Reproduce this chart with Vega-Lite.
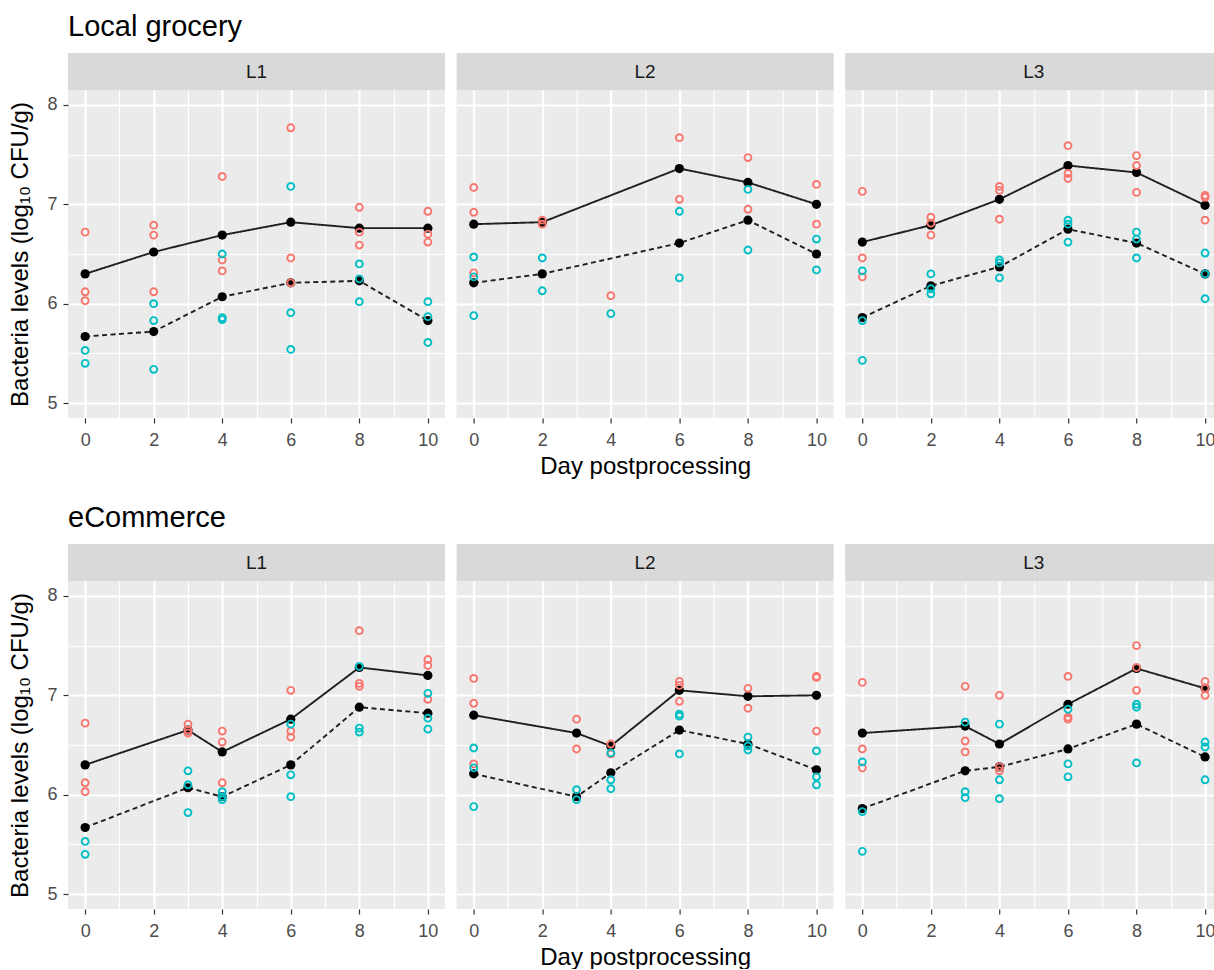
{
"$schema": "https://vega.github.io/schema/vega-lite/v6.json",
"padding": {"left": 8, "top": 13, "right": 0, "bottom": 0},
"background": "white",
"data": {"name": "obs"},
"datasets": {"obs": [
{"site":"Local grocery","lot":"L1","kind":"raw","series":"A","day":0,"value":6.72},
{"site":"Local grocery","lot":"L1","kind":"raw","series":"A","day":0,"value":6.12},
{"site":"Local grocery","lot":"L1","kind":"raw","series":"A","day":0,"value":6.03},
{"site":"Local grocery","lot":"L1","kind":"raw","series":"B","day":0,"value":5.53},
{"site":"Local grocery","lot":"L1","kind":"raw","series":"B","day":0,"value":5.40},
{"site":"Local grocery","lot":"L1","kind":"raw","series":"A","day":2,"value":6.79},
{"site":"Local grocery","lot":"L1","kind":"raw","series":"A","day":2,"value":6.69},
{"site":"Local grocery","lot":"L1","kind":"raw","series":"A","day":2,"value":6.12},
{"site":"Local grocery","lot":"L1","kind":"raw","series":"B","day":2,"value":6.00},
{"site":"Local grocery","lot":"L1","kind":"raw","series":"B","day":2,"value":5.83},
{"site":"Local grocery","lot":"L1","kind":"raw","series":"B","day":2,"value":5.34},
{"site":"Local grocery","lot":"L1","kind":"raw","series":"A","day":4,"value":7.28},
{"site":"Local grocery","lot":"L1","kind":"raw","series":"A","day":4,"value":6.44},
{"site":"Local grocery","lot":"L1","kind":"raw","series":"A","day":4,"value":6.33},
{"site":"Local grocery","lot":"L1","kind":"raw","series":"B","day":4,"value":6.50},
{"site":"Local grocery","lot":"L1","kind":"raw","series":"B","day":4,"value":5.86},
{"site":"Local grocery","lot":"L1","kind":"raw","series":"B","day":4,"value":5.84},
{"site":"Local grocery","lot":"L1","kind":"raw","series":"A","day":6,"value":7.77},
{"site":"Local grocery","lot":"L1","kind":"raw","series":"A","day":6,"value":6.46},
{"site":"Local grocery","lot":"L1","kind":"raw","series":"A","day":6,"value":6.21},
{"site":"Local grocery","lot":"L1","kind":"raw","series":"B","day":6,"value":7.18},
{"site":"Local grocery","lot":"L1","kind":"raw","series":"B","day":6,"value":5.91},
{"site":"Local grocery","lot":"L1","kind":"raw","series":"B","day":6,"value":5.54},
{"site":"Local grocery","lot":"L1","kind":"raw","series":"A","day":8,"value":6.97},
{"site":"Local grocery","lot":"L1","kind":"raw","series":"A","day":8,"value":6.72},
{"site":"Local grocery","lot":"L1","kind":"raw","series":"A","day":8,"value":6.59},
{"site":"Local grocery","lot":"L1","kind":"raw","series":"B","day":8,"value":6.40},
{"site":"Local grocery","lot":"L1","kind":"raw","series":"B","day":8,"value":6.25},
{"site":"Local grocery","lot":"L1","kind":"raw","series":"B","day":8,"value":6.02},
{"site":"Local grocery","lot":"L1","kind":"raw","series":"A","day":10,"value":6.93},
{"site":"Local grocery","lot":"L1","kind":"raw","series":"A","day":10,"value":6.70},
{"site":"Local grocery","lot":"L1","kind":"raw","series":"A","day":10,"value":6.62},
{"site":"Local grocery","lot":"L1","kind":"raw","series":"B","day":10,"value":6.02},
{"site":"Local grocery","lot":"L1","kind":"raw","series":"B","day":10,"value":5.87},
{"site":"Local grocery","lot":"L1","kind":"raw","series":"B","day":10,"value":5.61},
{"site":"Local grocery","lot":"L1","kind":"mean","series":"A","day":0,"value":6.30},
{"site":"Local grocery","lot":"L1","kind":"mean","series":"A","day":2,"value":6.52},
{"site":"Local grocery","lot":"L1","kind":"mean","series":"A","day":4,"value":6.69},
{"site":"Local grocery","lot":"L1","kind":"mean","series":"A","day":6,"value":6.82},
{"site":"Local grocery","lot":"L1","kind":"mean","series":"A","day":8,"value":6.76},
{"site":"Local grocery","lot":"L1","kind":"mean","series":"A","day":10,"value":6.76},
{"site":"Local grocery","lot":"L1","kind":"mean","series":"B","day":0,"value":5.67},
{"site":"Local grocery","lot":"L1","kind":"mean","series":"B","day":2,"value":5.72},
{"site":"Local grocery","lot":"L1","kind":"mean","series":"B","day":4,"value":6.07},
{"site":"Local grocery","lot":"L1","kind":"mean","series":"B","day":6,"value":6.21},
{"site":"Local grocery","lot":"L1","kind":"mean","series":"B","day":8,"value":6.23},
{"site":"Local grocery","lot":"L1","kind":"mean","series":"B","day":10,"value":5.83},

{"site":"Local grocery","lot":"L2","kind":"raw","series":"A","day":0,"value":7.17},
{"site":"Local grocery","lot":"L2","kind":"raw","series":"A","day":0,"value":6.92},
{"site":"Local grocery","lot":"L2","kind":"raw","series":"A","day":0,"value":6.31},
{"site":"Local grocery","lot":"L2","kind":"raw","series":"B","day":0,"value":6.47},
{"site":"Local grocery","lot":"L2","kind":"raw","series":"B","day":0,"value":6.27},
{"site":"Local grocery","lot":"L2","kind":"raw","series":"B","day":0,"value":5.88},
{"site":"Local grocery","lot":"L2","kind":"raw","series":"A","day":2,"value":6.84},
{"site":"Local grocery","lot":"L2","kind":"raw","series":"A","day":2,"value":6.80},
{"site":"Local grocery","lot":"L2","kind":"raw","series":"B","day":2,"value":6.46},
{"site":"Local grocery","lot":"L2","kind":"raw","series":"B","day":2,"value":6.13},
{"site":"Local grocery","lot":"L2","kind":"raw","series":"A","day":4,"value":6.08},
{"site":"Local grocery","lot":"L2","kind":"raw","series":"B","day":4,"value":5.90},
{"site":"Local grocery","lot":"L2","kind":"raw","series":"A","day":6,"value":7.67},
{"site":"Local grocery","lot":"L2","kind":"raw","series":"A","day":6,"value":7.05},
{"site":"Local grocery","lot":"L2","kind":"raw","series":"B","day":6,"value":6.93},
{"site":"Local grocery","lot":"L2","kind":"raw","series":"B","day":6,"value":6.26},
{"site":"Local grocery","lot":"L2","kind":"raw","series":"A","day":8,"value":7.47},
{"site":"Local grocery","lot":"L2","kind":"raw","series":"A","day":8,"value":6.95},
{"site":"Local grocery","lot":"L2","kind":"raw","series":"B","day":8,"value":7.15},
{"site":"Local grocery","lot":"L2","kind":"raw","series":"B","day":8,"value":6.54},
{"site":"Local grocery","lot":"L2","kind":"raw","series":"A","day":10,"value":7.20},
{"site":"Local grocery","lot":"L2","kind":"raw","series":"A","day":10,"value":6.80},
{"site":"Local grocery","lot":"L2","kind":"raw","series":"B","day":10,"value":6.65},
{"site":"Local grocery","lot":"L2","kind":"raw","series":"B","day":10,"value":6.34},
{"site":"Local grocery","lot":"L2","kind":"mean","series":"A","day":0,"value":6.80},
{"site":"Local grocery","lot":"L2","kind":"mean","series":"A","day":2,"value":6.82},
{"site":"Local grocery","lot":"L2","kind":"mean","series":"A","day":6,"value":7.36},
{"site":"Local grocery","lot":"L2","kind":"mean","series":"A","day":8,"value":7.22},
{"site":"Local grocery","lot":"L2","kind":"mean","series":"A","day":10,"value":7.00},
{"site":"Local grocery","lot":"L2","kind":"mean","series":"B","day":0,"value":6.21},
{"site":"Local grocery","lot":"L2","kind":"mean","series":"B","day":2,"value":6.30},
{"site":"Local grocery","lot":"L2","kind":"mean","series":"B","day":6,"value":6.61},
{"site":"Local grocery","lot":"L2","kind":"mean","series":"B","day":8,"value":6.84},
{"site":"Local grocery","lot":"L2","kind":"mean","series":"B","day":10,"value":6.50},

{"site":"Local grocery","lot":"L3","kind":"raw","series":"A","day":0,"value":7.13},
{"site":"Local grocery","lot":"L3","kind":"raw","series":"A","day":0,"value":6.46},
{"site":"Local grocery","lot":"L3","kind":"raw","series":"A","day":0,"value":6.27},
{"site":"Local grocery","lot":"L3","kind":"raw","series":"B","day":0,"value":6.33},
{"site":"Local grocery","lot":"L3","kind":"raw","series":"B","day":0,"value":5.83},
{"site":"Local grocery","lot":"L3","kind":"raw","series":"B","day":0,"value":5.43},
{"site":"Local grocery","lot":"L3","kind":"raw","series":"A","day":2,"value":6.87},
{"site":"Local grocery","lot":"L3","kind":"raw","series":"A","day":2,"value":6.81},
{"site":"Local grocery","lot":"L3","kind":"raw","series":"A","day":2,"value":6.69},
{"site":"Local grocery","lot":"L3","kind":"raw","series":"B","day":2,"value":6.30},
{"site":"Local grocery","lot":"L3","kind":"raw","series":"B","day":2,"value":6.15},
{"site":"Local grocery","lot":"L3","kind":"raw","series":"B","day":2,"value":6.10},
{"site":"Local grocery","lot":"L3","kind":"raw","series":"A","day":4,"value":7.18},
{"site":"Local grocery","lot":"L3","kind":"raw","series":"A","day":4,"value":7.14},
{"site":"Local grocery","lot":"L3","kind":"raw","series":"A","day":4,"value":6.85},
{"site":"Local grocery","lot":"L3","kind":"raw","series":"B","day":4,"value":6.44},
{"site":"Local grocery","lot":"L3","kind":"raw","series":"B","day":4,"value":6.41},
{"site":"Local grocery","lot":"L3","kind":"raw","series":"B","day":4,"value":6.26},
{"site":"Local grocery","lot":"L3","kind":"raw","series":"A","day":6,"value":7.59},
{"site":"Local grocery","lot":"L3","kind":"raw","series":"A","day":6,"value":7.31},
{"site":"Local grocery","lot":"L3","kind":"raw","series":"A","day":6,"value":7.26},
{"site":"Local grocery","lot":"L3","kind":"raw","series":"B","day":6,"value":6.84},
{"site":"Local grocery","lot":"L3","kind":"raw","series":"B","day":6,"value":6.80},
{"site":"Local grocery","lot":"L3","kind":"raw","series":"B","day":6,"value":6.62},
{"site":"Local grocery","lot":"L3","kind":"raw","series":"A","day":8,"value":7.49},
{"site":"Local grocery","lot":"L3","kind":"raw","series":"A","day":8,"value":7.39},
{"site":"Local grocery","lot":"L3","kind":"raw","series":"A","day":8,"value":7.12},
{"site":"Local grocery","lot":"L3","kind":"raw","series":"B","day":8,"value":6.72},
{"site":"Local grocery","lot":"L3","kind":"raw","series":"B","day":8,"value":6.65},
{"site":"Local grocery","lot":"L3","kind":"raw","series":"B","day":8,"value":6.46},
{"site":"Local grocery","lot":"L3","kind":"raw","series":"A","day":10,"value":7.09},
{"site":"Local grocery","lot":"L3","kind":"raw","series":"A","day":10,"value":7.07},
{"site":"Local grocery","lot":"L3","kind":"raw","series":"A","day":10,"value":6.84},
{"site":"Local grocery","lot":"L3","kind":"raw","series":"B","day":10,"value":6.51},
{"site":"Local grocery","lot":"L3","kind":"raw","series":"B","day":10,"value":6.30},
{"site":"Local grocery","lot":"L3","kind":"raw","series":"B","day":10,"value":6.05},
{"site":"Local grocery","lot":"L3","kind":"mean","series":"A","day":0,"value":6.62},
{"site":"Local grocery","lot":"L3","kind":"mean","series":"A","day":2,"value":6.79},
{"site":"Local grocery","lot":"L3","kind":"mean","series":"A","day":4,"value":7.05},
{"site":"Local grocery","lot":"L3","kind":"mean","series":"A","day":6,"value":7.39},
{"site":"Local grocery","lot":"L3","kind":"mean","series":"A","day":8,"value":7.32},
{"site":"Local grocery","lot":"L3","kind":"mean","series":"A","day":10,"value":6.99},
{"site":"Local grocery","lot":"L3","kind":"mean","series":"B","day":0,"value":5.86},
{"site":"Local grocery","lot":"L3","kind":"mean","series":"B","day":2,"value":6.18},
{"site":"Local grocery","lot":"L3","kind":"mean","series":"B","day":4,"value":6.37},
{"site":"Local grocery","lot":"L3","kind":"mean","series":"B","day":6,"value":6.75},
{"site":"Local grocery","lot":"L3","kind":"mean","series":"B","day":8,"value":6.61},
{"site":"Local grocery","lot":"L3","kind":"mean","series":"B","day":10,"value":6.30},

{"site":"eCommerce","lot":"L1","kind":"raw","series":"A","day":0,"value":6.72},
{"site":"eCommerce","lot":"L1","kind":"raw","series":"A","day":0,"value":6.12},
{"site":"eCommerce","lot":"L1","kind":"raw","series":"A","day":0,"value":6.03},
{"site":"eCommerce","lot":"L1","kind":"raw","series":"B","day":0,"value":5.53},
{"site":"eCommerce","lot":"L1","kind":"raw","series":"B","day":0,"value":5.40},
{"site":"eCommerce","lot":"L1","kind":"raw","series":"A","day":3,"value":6.71},
{"site":"eCommerce","lot":"L1","kind":"raw","series":"A","day":3,"value":6.65},
{"site":"eCommerce","lot":"L1","kind":"raw","series":"A","day":3,"value":6.62},
{"site":"eCommerce","lot":"L1","kind":"raw","series":"B","day":3,"value":6.24},
{"site":"eCommerce","lot":"L1","kind":"raw","series":"B","day":3,"value":6.10},
{"site":"eCommerce","lot":"L1","kind":"raw","series":"B","day":3,"value":5.82},
{"site":"eCommerce","lot":"L1","kind":"raw","series":"A","day":4,"value":6.64},
{"site":"eCommerce","lot":"L1","kind":"raw","series":"A","day":4,"value":6.53},
{"site":"eCommerce","lot":"L1","kind":"raw","series":"A","day":4,"value":6.12},
{"site":"eCommerce","lot":"L1","kind":"raw","series":"B","day":4,"value":6.03},
{"site":"eCommerce","lot":"L1","kind":"raw","series":"B","day":4,"value":5.98},
{"site":"eCommerce","lot":"L1","kind":"raw","series":"B","day":4,"value":5.95},
{"site":"eCommerce","lot":"L1","kind":"raw","series":"A","day":6,"value":7.05},
{"site":"eCommerce","lot":"L1","kind":"raw","series":"A","day":6,"value":6.64},
{"site":"eCommerce","lot":"L1","kind":"raw","series":"A","day":6,"value":6.58},
{"site":"eCommerce","lot":"L1","kind":"raw","series":"B","day":6,"value":6.71},
{"site":"eCommerce","lot":"L1","kind":"raw","series":"B","day":6,"value":6.20},
{"site":"eCommerce","lot":"L1","kind":"raw","series":"B","day":6,"value":5.98},
{"site":"eCommerce","lot":"L1","kind":"raw","series":"A","day":8,"value":7.65},
{"site":"eCommerce","lot":"L1","kind":"raw","series":"A","day":8,"value":7.12},
{"site":"eCommerce","lot":"L1","kind":"raw","series":"A","day":8,"value":7.09},
{"site":"eCommerce","lot":"L1","kind":"raw","series":"B","day":8,"value":7.29},
{"site":"eCommerce","lot":"L1","kind":"raw","series":"B","day":8,"value":6.67},
{"site":"eCommerce","lot":"L1","kind":"raw","series":"B","day":8,"value":6.63},
{"site":"eCommerce","lot":"L1","kind":"raw","series":"A","day":10,"value":7.36},
{"site":"eCommerce","lot":"L1","kind":"raw","series":"A","day":10,"value":7.30},
{"site":"eCommerce","lot":"L1","kind":"raw","series":"A","day":10,"value":6.96},
{"site":"eCommerce","lot":"L1","kind":"raw","series":"B","day":10,"value":7.02},
{"site":"eCommerce","lot":"L1","kind":"raw","series":"B","day":10,"value":6.77},
{"site":"eCommerce","lot":"L1","kind":"raw","series":"B","day":10,"value":6.66},
{"site":"eCommerce","lot":"L1","kind":"mean","series":"A","day":0,"value":6.30},
{"site":"eCommerce","lot":"L1","kind":"mean","series":"A","day":3,"value":6.65},
{"site":"eCommerce","lot":"L1","kind":"mean","series":"A","day":4,"value":6.43},
{"site":"eCommerce","lot":"L1","kind":"mean","series":"A","day":6,"value":6.76},
{"site":"eCommerce","lot":"L1","kind":"mean","series":"A","day":8,"value":7.28},
{"site":"eCommerce","lot":"L1","kind":"mean","series":"A","day":10,"value":7.20},
{"site":"eCommerce","lot":"L1","kind":"mean","series":"B","day":0,"value":5.67},
{"site":"eCommerce","lot":"L1","kind":"mean","series":"B","day":3,"value":6.07},
{"site":"eCommerce","lot":"L1","kind":"mean","series":"B","day":4,"value":5.98},
{"site":"eCommerce","lot":"L1","kind":"mean","series":"B","day":6,"value":6.30},
{"site":"eCommerce","lot":"L1","kind":"mean","series":"B","day":8,"value":6.88},
{"site":"eCommerce","lot":"L1","kind":"mean","series":"B","day":10,"value":6.82},

{"site":"eCommerce","lot":"L2","kind":"raw","series":"A","day":0,"value":7.17},
{"site":"eCommerce","lot":"L2","kind":"raw","series":"A","day":0,"value":6.92},
{"site":"eCommerce","lot":"L2","kind":"raw","series":"A","day":0,"value":6.31},
{"site":"eCommerce","lot":"L2","kind":"raw","series":"B","day":0,"value":6.47},
{"site":"eCommerce","lot":"L2","kind":"raw","series":"B","day":0,"value":6.27},
{"site":"eCommerce","lot":"L2","kind":"raw","series":"B","day":0,"value":5.88},
{"site":"eCommerce","lot":"L2","kind":"raw","series":"A","day":3,"value":6.76},
{"site":"eCommerce","lot":"L2","kind":"raw","series":"A","day":3,"value":6.46},
{"site":"eCommerce","lot":"L2","kind":"raw","series":"B","day":3,"value":6.05},
{"site":"eCommerce","lot":"L2","kind":"raw","series":"B","day":3,"value":5.95},
{"site":"eCommerce","lot":"L2","kind":"raw","series":"A","day":4,"value":6.51},
{"site":"eCommerce","lot":"L2","kind":"raw","series":"A","day":4,"value":6.41},
{"site":"eCommerce","lot":"L2","kind":"raw","series":"B","day":4,"value":6.42},
{"site":"eCommerce","lot":"L2","kind":"raw","series":"B","day":4,"value":6.15},
{"site":"eCommerce","lot":"L2","kind":"raw","series":"B","day":4,"value":6.06},
{"site":"eCommerce","lot":"L2","kind":"raw","series":"A","day":6,"value":7.14},
{"site":"eCommerce","lot":"L2","kind":"raw","series":"A","day":6,"value":7.10},
{"site":"eCommerce","lot":"L2","kind":"raw","series":"A","day":6,"value":6.94},
{"site":"eCommerce","lot":"L2","kind":"raw","series":"B","day":6,"value":6.81},
{"site":"eCommerce","lot":"L2","kind":"raw","series":"B","day":6,"value":6.79},
{"site":"eCommerce","lot":"L2","kind":"raw","series":"B","day":6,"value":6.41},
{"site":"eCommerce","lot":"L2","kind":"raw","series":"A","day":8,"value":7.07},
{"site":"eCommerce","lot":"L2","kind":"raw","series":"A","day":8,"value":6.87},
{"site":"eCommerce","lot":"L2","kind":"raw","series":"B","day":8,"value":6.58},
{"site":"eCommerce","lot":"L2","kind":"raw","series":"B","day":8,"value":6.49},
{"site":"eCommerce","lot":"L2","kind":"raw","series":"B","day":8,"value":6.45},
{"site":"eCommerce","lot":"L2","kind":"raw","series":"A","day":10,"value":7.19},
{"site":"eCommerce","lot":"L2","kind":"raw","series":"A","day":10,"value":7.18},
{"site":"eCommerce","lot":"L2","kind":"raw","series":"A","day":10,"value":6.64},
{"site":"eCommerce","lot":"L2","kind":"raw","series":"B","day":10,"value":6.44},
{"site":"eCommerce","lot":"L2","kind":"raw","series":"B","day":10,"value":6.18},
{"site":"eCommerce","lot":"L2","kind":"raw","series":"B","day":10,"value":6.10},
{"site":"eCommerce","lot":"L2","kind":"mean","series":"A","day":0,"value":6.80},
{"site":"eCommerce","lot":"L2","kind":"mean","series":"A","day":3,"value":6.62},
{"site":"eCommerce","lot":"L2","kind":"mean","series":"A","day":4,"value":6.49},
{"site":"eCommerce","lot":"L2","kind":"mean","series":"A","day":6,"value":7.05},
{"site":"eCommerce","lot":"L2","kind":"mean","series":"A","day":8,"value":6.99},
{"site":"eCommerce","lot":"L2","kind":"mean","series":"A","day":10,"value":7.00},
{"site":"eCommerce","lot":"L2","kind":"mean","series":"B","day":0,"value":6.21},
{"site":"eCommerce","lot":"L2","kind":"mean","series":"B","day":3,"value":5.98},
{"site":"eCommerce","lot":"L2","kind":"mean","series":"B","day":4,"value":6.22},
{"site":"eCommerce","lot":"L2","kind":"mean","series":"B","day":6,"value":6.65},
{"site":"eCommerce","lot":"L2","kind":"mean","series":"B","day":8,"value":6.51},
{"site":"eCommerce","lot":"L2","kind":"mean","series":"B","day":10,"value":6.25},

{"site":"eCommerce","lot":"L3","kind":"raw","series":"A","day":0,"value":7.13},
{"site":"eCommerce","lot":"L3","kind":"raw","series":"A","day":0,"value":6.46},
{"site":"eCommerce","lot":"L3","kind":"raw","series":"A","day":0,"value":6.27},
{"site":"eCommerce","lot":"L3","kind":"raw","series":"B","day":0,"value":6.33},
{"site":"eCommerce","lot":"L3","kind":"raw","series":"B","day":0,"value":5.83},
{"site":"eCommerce","lot":"L3","kind":"raw","series":"B","day":0,"value":5.43},
{"site":"eCommerce","lot":"L3","kind":"raw","series":"A","day":3,"value":7.09},
{"site":"eCommerce","lot":"L3","kind":"raw","series":"A","day":3,"value":6.54},
{"site":"eCommerce","lot":"L3","kind":"raw","series":"A","day":3,"value":6.43},
{"site":"eCommerce","lot":"L3","kind":"raw","series":"B","day":3,"value":6.73},
{"site":"eCommerce","lot":"L3","kind":"raw","series":"B","day":3,"value":6.03},
{"site":"eCommerce","lot":"L3","kind":"raw","series":"B","day":3,"value":5.97},
{"site":"eCommerce","lot":"L3","kind":"raw","series":"A","day":4,"value":7.00},
{"site":"eCommerce","lot":"L3","kind":"raw","series":"A","day":4,"value":6.28},
{"site":"eCommerce","lot":"L3","kind":"raw","series":"A","day":4,"value":6.24},
{"site":"eCommerce","lot":"L3","kind":"raw","series":"B","day":4,"value":6.71},
{"site":"eCommerce","lot":"L3","kind":"raw","series":"B","day":4,"value":6.15},
{"site":"eCommerce","lot":"L3","kind":"raw","series":"B","day":4,"value":5.96},
{"site":"eCommerce","lot":"L3","kind":"raw","series":"A","day":6,"value":7.19},
{"site":"eCommerce","lot":"L3","kind":"raw","series":"A","day":6,"value":6.78},
{"site":"eCommerce","lot":"L3","kind":"raw","series":"A","day":6,"value":6.76},
{"site":"eCommerce","lot":"L3","kind":"raw","series":"B","day":6,"value":6.86},
{"site":"eCommerce","lot":"L3","kind":"raw","series":"B","day":6,"value":6.31},
{"site":"eCommerce","lot":"L3","kind":"raw","series":"B","day":6,"value":6.18},
{"site":"eCommerce","lot":"L3","kind":"raw","series":"A","day":8,"value":7.50},
{"site":"eCommerce","lot":"L3","kind":"raw","series":"A","day":8,"value":7.28},
{"site":"eCommerce","lot":"L3","kind":"raw","series":"A","day":8,"value":7.05},
{"site":"eCommerce","lot":"L3","kind":"raw","series":"B","day":8,"value":6.91},
{"site":"eCommerce","lot":"L3","kind":"raw","series":"B","day":8,"value":6.88},
{"site":"eCommerce","lot":"L3","kind":"raw","series":"B","day":8,"value":6.32},
{"site":"eCommerce","lot":"L3","kind":"raw","series":"A","day":10,"value":7.14},
{"site":"eCommerce","lot":"L3","kind":"raw","series":"A","day":10,"value":7.07},
{"site":"eCommerce","lot":"L3","kind":"raw","series":"A","day":10,"value":7.00},
{"site":"eCommerce","lot":"L3","kind":"raw","series":"B","day":10,"value":6.53},
{"site":"eCommerce","lot":"L3","kind":"raw","series":"B","day":10,"value":6.48},
{"site":"eCommerce","lot":"L3","kind":"raw","series":"B","day":10,"value":6.15},
{"site":"eCommerce","lot":"L3","kind":"mean","series":"A","day":0,"value":6.62},
{"site":"eCommerce","lot":"L3","kind":"mean","series":"A","day":3,"value":6.69},
{"site":"eCommerce","lot":"L3","kind":"mean","series":"A","day":4,"value":6.51},
{"site":"eCommerce","lot":"L3","kind":"mean","series":"A","day":6,"value":6.91},
{"site":"eCommerce","lot":"L3","kind":"mean","series":"A","day":8,"value":7.27},
{"site":"eCommerce","lot":"L3","kind":"mean","series":"A","day":10,"value":7.07},
{"site":"eCommerce","lot":"L3","kind":"mean","series":"B","day":0,"value":5.86},
{"site":"eCommerce","lot":"L3","kind":"mean","series":"B","day":3,"value":6.24},
{"site":"eCommerce","lot":"L3","kind":"mean","series":"B","day":4,"value":6.28},
{"site":"eCommerce","lot":"L3","kind":"mean","series":"B","day":6,"value":6.46},
{"site":"eCommerce","lot":"L3","kind":"mean","series":"B","day":8,"value":6.71},
{"site":"eCommerce","lot":"L3","kind":"mean","series":"B","day":10,"value":6.38}
]},
"spacing": 26,
"vconcat": [
{
 "title": {"text": "Local grocery", "anchor": "start", "frame": "group", "fontSize": 29, "fontWeight": "normal", "color": "#000000", "offset": 11},
 "spacing": 11.6,
 "hconcat": [
  {"spacing": 0, "vconcat": [
   {"width": 377, "height": 37, "view": {"fill": "#d9d9d9", "stroke": null}, "data": {"values": [{"lot": "L1"}]},
    "mark": {"type": "text", "fontSize": 19, "color": "#1a1a1a"}, "encoding": {"text": {"field": "lot", "type": "nominal"}}},
   {"width": 377, "height": 328,
    "transform": [{"filter": "datum.site === 'Local grocery' && datum.lot === 'L1'"}],
    "encoding": {
     "x": {"field": "day", "type": "quantitative", "scale": {"domain": [-0.5, 10.5], "nice": false, "zero": false},
      "axis": {"values": [0,1,2,3,4,5,6,7,8,9,10], "labelExpr": "datum.value % 2 === 0 ? '' + datum.value : ''",
       "gridWidth": {"condition": {"test": "datum.value % 2 === 0", "value": 2.2}, "value": 1.1},
       "tickOpacity": {"condition": {"test": "datum.value % 2 === 0", "value": 1}, "value": 0}, "title": null}},
     "y": {"field": "value", "type": "quantitative", "scale": {"domain": [4.85, 8.15], "nice": false, "zero": false},
      "axis": {"values": [5,5.5,6,6.5,7,7.5,8], "labelExpr": "datum.value % 1 === 0 ? '' + datum.value : ''",
       "gridWidth": {"condition": {"test": "datum.value % 1 === 0", "value": 2.2}, "value": 1.1},
       "tickOpacity": {"condition": {"test": "datum.value % 1 === 0", "value": 1}, "value": 0},
       "title": "Bacteria levels (log₁₀ CFU/g)"}}
    },
    "layer": [
     {"transform": [{"filter": "datum.kind === 'mean'"}], "mark": {"type": "line", "color": "#1f1f1f", "strokeWidth": 1.9},
      "encoding": {"strokeDash": {"field": "series", "type": "nominal", "scale": {"domain": ["A","B"], "range": [[1,0],[5,3.5]]}, "legend": null}}},
     {"transform": [{"filter": "datum.kind === 'mean'"}], "mark": {"type": "point", "filled": true, "color": "#000000", "size": 85, "opacity": 1}},
     {"transform": [{"filter": "datum.kind === 'raw'"}], "mark": {"type": "point", "filled": false, "size": 48, "strokeWidth": 1.9, "opacity": 1},
      "encoding": {"color": {"field": "series", "type": "nominal", "scale": {"domain": ["A","B"], "range": ["#F8766D","#00BFC4"]}, "legend": null}}}
    ]}
  ]},
  {"spacing": 0, "vconcat": [
   {"width": 377, "height": 37, "view": {"fill": "#d9d9d9", "stroke": null}, "data": {"values": [{"lot": "L2"}]},
    "mark": {"type": "text", "fontSize": 19, "color": "#1a1a1a"}, "encoding": {"text": {"field": "lot", "type": "nominal"}}},
   {"width": 377, "height": 328,
    "transform": [{"filter": "datum.site === 'Local grocery' && datum.lot === 'L2'"}],
    "encoding": {
     "x": {"field": "day", "type": "quantitative", "scale": {"domain": [-0.5, 10.5], "nice": false, "zero": false},
      "axis": {"values": [0,1,2,3,4,5,6,7,8,9,10], "labelExpr": "datum.value % 2 === 0 ? '' + datum.value : ''",
       "gridWidth": {"condition": {"test": "datum.value % 2 === 0", "value": 2.2}, "value": 1.1},
       "tickOpacity": {"condition": {"test": "datum.value % 2 === 0", "value": 1}, "value": 0}, "title": "Day postprocessing"}},
     "y": {"field": "value", "type": "quantitative", "scale": {"domain": [4.85, 8.15], "nice": false, "zero": false},
      "axis": {"values": [5,5.5,6,6.5,7,7.5,8], "labels": false, "ticks": false,
       "gridWidth": {"condition": {"test": "datum.value % 1 === 0", "value": 2.2}, "value": 1.1}, "title": null}}
    },
    "layer": [
     {"transform": [{"filter": "datum.kind === 'mean'"}], "mark": {"type": "line", "color": "#1f1f1f", "strokeWidth": 1.9},
      "encoding": {"strokeDash": {"field": "series", "type": "nominal", "scale": {"domain": ["A","B"], "range": [[1,0],[5,3.5]]}, "legend": null}}},
     {"transform": [{"filter": "datum.kind === 'mean'"}], "mark": {"type": "point", "filled": true, "color": "#000000", "size": 85, "opacity": 1}},
     {"transform": [{"filter": "datum.kind === 'raw'"}], "mark": {"type": "point", "filled": false, "size": 48, "strokeWidth": 1.9, "opacity": 1},
      "encoding": {"color": {"field": "series", "type": "nominal", "scale": {"domain": ["A","B"], "range": ["#F8766D","#00BFC4"]}, "legend": null}}}
    ]}
  ]},
  {"spacing": 0, "vconcat": [
   {"width": 377, "height": 37, "view": {"fill": "#d9d9d9", "stroke": null}, "data": {"values": [{"lot": "L3"}]},
    "mark": {"type": "text", "fontSize": 19, "color": "#1a1a1a"}, "encoding": {"text": {"field": "lot", "type": "nominal"}}},
   {"width": 377, "height": 328,
    "transform": [{"filter": "datum.site === 'Local grocery' && datum.lot === 'L3'"}],
    "encoding": {
     "x": {"field": "day", "type": "quantitative", "scale": {"domain": [-0.5, 10.5], "nice": false, "zero": false},
      "axis": {"values": [0,1,2,3,4,5,6,7,8,9,10], "labelExpr": "datum.value % 2 === 0 ? '' + datum.value : ''",
       "gridWidth": {"condition": {"test": "datum.value % 2 === 0", "value": 2.2}, "value": 1.1},
       "tickOpacity": {"condition": {"test": "datum.value % 2 === 0", "value": 1}, "value": 0}, "title": null}},
     "y": {"field": "value", "type": "quantitative", "scale": {"domain": [4.85, 8.15], "nice": false, "zero": false},
      "axis": {"values": [5,5.5,6,6.5,7,7.5,8], "labels": false, "ticks": false,
       "gridWidth": {"condition": {"test": "datum.value % 1 === 0", "value": 2.2}, "value": 1.1}, "title": null}}
    },
    "layer": [
     {"transform": [{"filter": "datum.kind === 'mean'"}], "mark": {"type": "line", "color": "#1f1f1f", "strokeWidth": 1.9},
      "encoding": {"strokeDash": {"field": "series", "type": "nominal", "scale": {"domain": ["A","B"], "range": [[1,0],[5,3.5]]}, "legend": null}}},
     {"transform": [{"filter": "datum.kind === 'mean'"}], "mark": {"type": "point", "filled": true, "color": "#000000", "size": 85, "opacity": 1}},
     {"transform": [{"filter": "datum.kind === 'raw'"}], "mark": {"type": "point", "filled": false, "size": 48, "strokeWidth": 1.9, "opacity": 1},
      "encoding": {"color": {"field": "series", "type": "nominal", "scale": {"domain": ["A","B"], "range": ["#F8766D","#00BFC4"]}, "legend": null}}}
    ]}
  ]}
 ]
},
{
 "title": {"text": "eCommerce", "anchor": "start", "frame": "group", "fontSize": 29, "fontWeight": "normal", "color": "#000000", "offset": 11},
 "spacing": 11.6,
 "hconcat": [
  {"spacing": 0, "vconcat": [
   {"width": 377, "height": 37, "view": {"fill": "#d9d9d9", "stroke": null}, "data": {"values": [{"lot": "L1"}]},
    "mark": {"type": "text", "fontSize": 19, "color": "#1a1a1a"}, "encoding": {"text": {"field": "lot", "type": "nominal"}}},
   {"width": 377, "height": 328,
    "transform": [{"filter": "datum.site === 'eCommerce' && datum.lot === 'L1'"}],
    "encoding": {
     "x": {"field": "day", "type": "quantitative", "scale": {"domain": [-0.5, 10.5], "nice": false, "zero": false},
      "axis": {"values": [0,1,2,3,4,5,6,7,8,9,10], "labelExpr": "datum.value % 2 === 0 ? '' + datum.value : ''",
       "gridWidth": {"condition": {"test": "datum.value % 2 === 0", "value": 2.2}, "value": 1.1},
       "tickOpacity": {"condition": {"test": "datum.value % 2 === 0", "value": 1}, "value": 0}, "title": null}},
     "y": {"field": "value", "type": "quantitative", "scale": {"domain": [4.85, 8.15], "nice": false, "zero": false},
      "axis": {"values": [5,5.5,6,6.5,7,7.5,8], "labelExpr": "datum.value % 1 === 0 ? '' + datum.value : ''",
       "gridWidth": {"condition": {"test": "datum.value % 1 === 0", "value": 2.2}, "value": 1.1},
       "tickOpacity": {"condition": {"test": "datum.value % 1 === 0", "value": 1}, "value": 0},
       "title": "Bacteria levels (log₁₀ CFU/g)"}}
    },
    "layer": [
     {"transform": [{"filter": "datum.kind === 'mean'"}], "mark": {"type": "line", "color": "#1f1f1f", "strokeWidth": 1.9},
      "encoding": {"strokeDash": {"field": "series", "type": "nominal", "scale": {"domain": ["A","B"], "range": [[1,0],[5,3.5]]}, "legend": null}}},
     {"transform": [{"filter": "datum.kind === 'mean'"}], "mark": {"type": "point", "filled": true, "color": "#000000", "size": 85, "opacity": 1}},
     {"transform": [{"filter": "datum.kind === 'raw'"}], "mark": {"type": "point", "filled": false, "size": 48, "strokeWidth": 1.9, "opacity": 1},
      "encoding": {"color": {"field": "series", "type": "nominal", "scale": {"domain": ["A","B"], "range": ["#F8766D","#00BFC4"]}, "legend": null}}}
    ]}
  ]},
  {"spacing": 0, "vconcat": [
   {"width": 377, "height": 37, "view": {"fill": "#d9d9d9", "stroke": null}, "data": {"values": [{"lot": "L2"}]},
    "mark": {"type": "text", "fontSize": 19, "color": "#1a1a1a"}, "encoding": {"text": {"field": "lot", "type": "nominal"}}},
   {"width": 377, "height": 328,
    "transform": [{"filter": "datum.site === 'eCommerce' && datum.lot === 'L2'"}],
    "encoding": {
     "x": {"field": "day", "type": "quantitative", "scale": {"domain": [-0.5, 10.5], "nice": false, "zero": false},
      "axis": {"values": [0,1,2,3,4,5,6,7,8,9,10], "labelExpr": "datum.value % 2 === 0 ? '' + datum.value : ''",
       "gridWidth": {"condition": {"test": "datum.value % 2 === 0", "value": 2.2}, "value": 1.1},
       "tickOpacity": {"condition": {"test": "datum.value % 2 === 0", "value": 1}, "value": 0}, "title": "Day postprocessing"}},
     "y": {"field": "value", "type": "quantitative", "scale": {"domain": [4.85, 8.15], "nice": false, "zero": false},
      "axis": {"values": [5,5.5,6,6.5,7,7.5,8], "labels": false, "ticks": false,
       "gridWidth": {"condition": {"test": "datum.value % 1 === 0", "value": 2.2}, "value": 1.1}, "title": null}}
    },
    "layer": [
     {"transform": [{"filter": "datum.kind === 'mean'"}], "mark": {"type": "line", "color": "#1f1f1f", "strokeWidth": 1.9},
      "encoding": {"strokeDash": {"field": "series", "type": "nominal", "scale": {"domain": ["A","B"], "range": [[1,0],[5,3.5]]}, "legend": null}}},
     {"transform": [{"filter": "datum.kind === 'mean'"}], "mark": {"type": "point", "filled": true, "color": "#000000", "size": 85, "opacity": 1}},
     {"transform": [{"filter": "datum.kind === 'raw'"}], "mark": {"type": "point", "filled": false, "size": 48, "strokeWidth": 1.9, "opacity": 1},
      "encoding": {"color": {"field": "series", "type": "nominal", "scale": {"domain": ["A","B"], "range": ["#F8766D","#00BFC4"]}, "legend": null}}}
    ]}
  ]},
  {"spacing": 0, "vconcat": [
   {"width": 377, "height": 37, "view": {"fill": "#d9d9d9", "stroke": null}, "data": {"values": [{"lot": "L3"}]},
    "mark": {"type": "text", "fontSize": 19, "color": "#1a1a1a"}, "encoding": {"text": {"field": "lot", "type": "nominal"}}},
   {"width": 377, "height": 328,
    "transform": [{"filter": "datum.site === 'eCommerce' && datum.lot === 'L3'"}],
    "encoding": {
     "x": {"field": "day", "type": "quantitative", "scale": {"domain": [-0.5, 10.5], "nice": false, "zero": false},
      "axis": {"values": [0,1,2,3,4,5,6,7,8,9,10], "labelExpr": "datum.value % 2 === 0 ? '' + datum.value : ''",
       "gridWidth": {"condition": {"test": "datum.value % 2 === 0", "value": 2.2}, "value": 1.1},
       "tickOpacity": {"condition": {"test": "datum.value % 2 === 0", "value": 1}, "value": 0}, "title": null}},
     "y": {"field": "value", "type": "quantitative", "scale": {"domain": [4.85, 8.15], "nice": false, "zero": false},
      "axis": {"values": [5,5.5,6,6.5,7,7.5,8], "labels": false, "ticks": false,
       "gridWidth": {"condition": {"test": "datum.value % 1 === 0", "value": 2.2}, "value": 1.1}, "title": null}}
    },
    "layer": [
     {"transform": [{"filter": "datum.kind === 'mean'"}], "mark": {"type": "line", "color": "#1f1f1f", "strokeWidth": 1.9},
      "encoding": {"strokeDash": {"field": "series", "type": "nominal", "scale": {"domain": ["A","B"], "range": [[1,0],[5,3.5]]}, "legend": null}}},
     {"transform": [{"filter": "datum.kind === 'mean'"}], "mark": {"type": "point", "filled": true, "color": "#000000", "size": 85, "opacity": 1}},
     {"transform": [{"filter": "datum.kind === 'raw'"}], "mark": {"type": "point", "filled": false, "size": 48, "strokeWidth": 1.9, "opacity": 1},
      "encoding": {"color": {"field": "series", "type": "nominal", "scale": {"domain": ["A","B"], "range": ["#F8766D","#00BFC4"]}, "legend": null}}}
    ]}
  ]}
 ]
}
],
"config": {
 "font": "Liberation Sans",
 "view": {"fill": "#ebebeb", "stroke": null},
 "axis": {"domain": false, "labelOverlap": false, "labelFlush": false, "tickColor": "#333333", "tickSize": 5, "tickWidth": 1.2,
  "labelColor": "#4d4d4d", "labelFontSize": 18, "labelFont": "Liberation Sans", "titleFont": "Liberation Sans",
  "titleFontSize": 24, "titleFontWeight": "normal", "titleColor": "#000000", "gridColor": "#ffffff", "gridOpacity": 1},
 "axisX": {"labelPadding": 8, "titlePadding": 5},
 "axisY": {"labelPadding": 6, "titlePadding": 14},
 "title": {"font": "Liberation Sans"}
}
}
